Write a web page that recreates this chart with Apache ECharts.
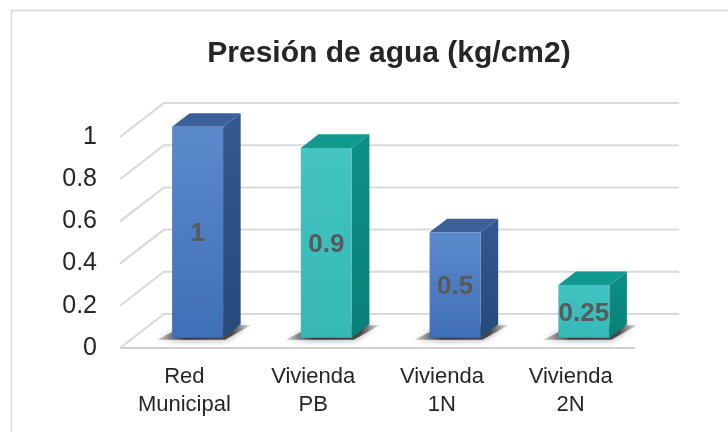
<!DOCTYPE html>
<html>
<head>
<meta charset="utf-8">
<script src="https://cdn.jsdelivr.net/npm/echarts@6/dist/echarts.min.js"></script>
<style>
html,body{margin:0;padding:0;background:#fff;}
#chart{width:728px;height:432px;}
</style>
</head>
<body>
<div id="chart"></div>
<script>
const categories = ['Red\nMunicipal', 'Vivienda\nPB', 'Vivienda\n1N', 'Vivienda\n2N'];
const values = [1, 0.9, 0.5, 0.25];
const valueLabels = ['1', '0.9', '0.5', '0.25'];
const yTicks = [0, 0.2, 0.4, 0.6, 0.8, 1];
const titleText = 'Presión de agua (kg/cm2)';

// styling constants
const DEPTH = [44, -34];
const D0 = 0.3, D1 = 0.7;
const BAR_FRAC = 0.198;
const palette = [
  { front: ['#5b8acc', '#3f6fb6'], side: ['#34598f', '#274a7c'], top: '#3c6099' },
  { front: ['#43c4c2', '#35b8b6'], side: ['#0d8f87', '#0a8078'], top: '#11998f' }
];

const chart = echarts.init(document.getElementById('chart'), null, { renderer: 'canvas' });

function renderWalls(params, api) {
  const v = api.value(1);
  const n = categories.length;
  const cw = api.size([1, 0])[0];
  const pL = api.coord([0, v]);
  const pR = api.coord([n - 1, v]);
  const x0 = pL[0] - cw / 2, x1 = pR[0] + cw / 2, y = pL[1];
  const children = [{
    type: 'polyline',
    shape: { points: [[x0, y], [x0 + DEPTH[0], y + DEPTH[1]], [x1 + DEPTH[0], y + DEPTH[1]]] },
    style: { stroke: '#d9d9d9', lineWidth: 2, fill: null }
  }];
  if (v === 0) {
    children.push({
      type: 'line',
      shape: { x1: x0, y1: y, x2: x1, y2: y },
      style: { stroke: '#d0d0d0', lineWidth: 2 }
    });
  }
  return { type: 'group', children: children };
}

function renderBars(params, api) {
  const i = api.value(0), v = api.value(1);
  const cw = api.size([1, 0])[0];
  const base = api.coord([i, 0]);
  const topP = api.coord([i, v]);
  const hw = cw * BAR_FRAC;
  const x0 = base[0] - hw + DEPTH[0] * D0;
  const x1 = base[0] + hw + DEPTH[0] * D0;
  const yb = base[1] + DEPTH[1] * D0;
  const yt = topP[1] + DEPTH[1] * D0;
  const ddx = DEPTH[0] * (D1 - D0), ddy = DEPTH[1] * (D1 - D0);
  const c = palette[i % 2];
  const grad = (cols) => new echarts.graphic.LinearGradient(0, 0, 0, 1, [{ offset: 0, color: cols[0] }, { offset: 1, color: cols[1] }]);
  return {
    type: 'group',
    children: [
      {
        type: 'polygon',
        shape: { points: [[x0 - 15, yb + 2], [x1 + 2, yb + 2], [x1 + ddx + 10, yb + ddy + 1], [x0 + ddx - 4, yb + ddy + 1]] },
        style: {
          fill: new echarts.graphic.LinearGradient(0, 0, 1, 0, [
            { offset: 0, color: 'rgba(50,50,50,0.2)' },
            { offset: 0.3, color: 'rgba(35,35,35,0.85)' },
            { offset: 0.8, color: 'rgba(35,35,35,0.75)' },
            { offset: 1, color: 'rgba(60,60,60,0.15)' }
          ]),
          shadowBlur: 7, shadowColor: 'rgba(0,0,0,0.5)'
        }
      },
      {
        type: 'polygon',
        shape: { points: [[x1, yt], [x1 + ddx, yt + ddy], [x1 + ddx, yb + ddy], [x1, yb]] },
        style: { fill: grad(c.side) }
      },
      {
        type: 'polygon',
        shape: { points: [[x0, yt], [x0 + ddx, yt + ddy], [x1 + ddx, yt + ddy], [x1, yt]] },
        style: { fill: c.top }
      },
      {
        type: 'rect',
        shape: { x: x0, y: yt, width: x1 - x0, height: yb - yt },
        style: { fill: grad(c.front) }
      },
      {
        type: 'text',
        style: {
          x: (x0 + x1) / 2, y: (yt + yb) / 2 + 2,
          text: valueLabels[i],
          align: 'center', verticalAlign: 'middle',
          font: 'bold 26px "Liberation Sans", Arial, sans-serif',
          fill: '#595959'
        }
      }
    ]
  };
}

const option = {
  backgroundColor: '#ffffff',
  animation: false,
  title: {
    text: titleText,
    left: 384,
    top: 34,
    textAlign: 'center',
    textStyle: { fontFamily: '"Liberation Sans", Arial, sans-serif', fontWeight: 'bold', fontSize: 30, color: '#262626' }
  },
  graphic: [{
    type: 'rect',
    z: -10,
    shape: { x: 11.5, y: 10.5, width: 760, height: 460 },
    style: { stroke: '#d9d9d9', lineWidth: 1.5, fill: null }
  }],
  grid: { left: 120, right: 93, top: 137, bottom: 84 },
  xAxis: {
    type: 'category',
    data: categories,
    axisLine: { show: false },
    axisTick: { show: false },
    splitLine: { show: false },
    axisLabel: {
      interval: 0,
      margin: 15,
      fontSize: 22,
      lineHeight: 28,
      color: '#262626',
      fontFamily: '"Liberation Sans", Arial, sans-serif'
    }
  },
  yAxis: {
    type: 'value',
    min: 0,
    max: 1,
    interval: 0.2,
    axisLine: { show: false },
    axisTick: { show: false },
    splitLine: { show: false },
    axisLabel: {
      margin: 23,
      fontSize: 25,
      color: '#262626',
      fontFamily: '"Liberation Sans", Arial, sans-serif',
      formatter: (v) => String(+v.toFixed(1))
    }
  },
  series: [
    {
      type: 'custom',
      name: 'walls',
      z: 1,
      clip: false,
      silent: true,
      renderItem: renderWalls,
      encode: { x: 0, y: 1 },
      data: yTicks.map(v => [0, v])
    },
    {
      type: 'custom',
      name: 'Presión',
      z: 3,
      clip: false,
      renderItem: renderBars,
      encode: { x: 0, y: 1 },
      data: values.map((v, i) => [i, v])
    }
  ]
};
chart.setOption(option);
</script>
</body>
</html>
